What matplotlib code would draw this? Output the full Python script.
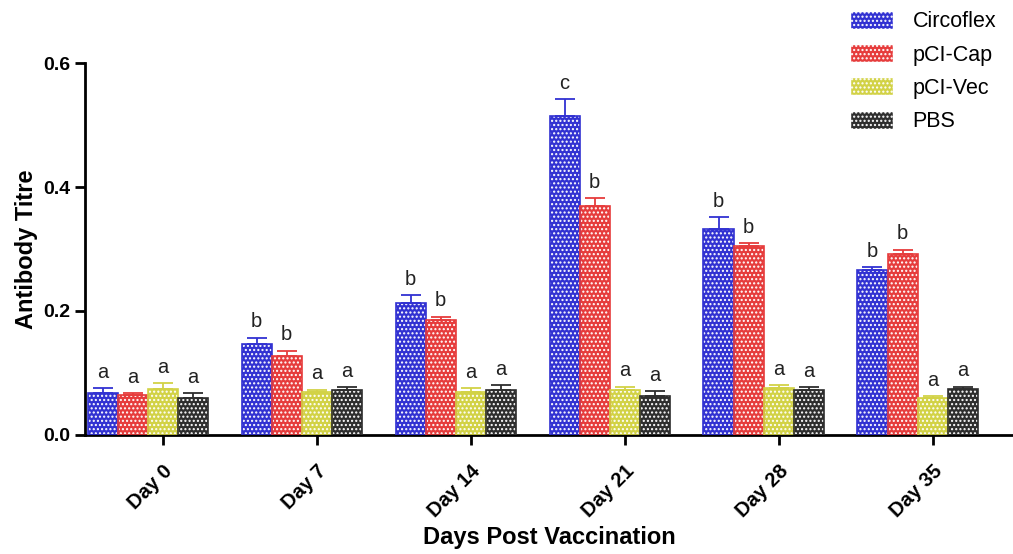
import numpy as np
import matplotlib.pyplot as plt
from matplotlib.patches import Patch

plt.rcParams['font.family'] = ['Liberation Sans', 'DejaVu Sans']

days = ['Day 0', 'Day 7', 'Day 14', 'Day 21', 'Day 28', 'Day 35']
groups = ['Circoflex', 'pCI-Cap', 'pCI-Vec', 'PBS']
colors = ['#3232d2', '#e63c3c', '#d2d246', '#2e2e2e']

circoflex = [0.068, 0.146, 0.213, 0.515, 0.332, 0.266]
circoflex_err = [0.007, 0.011, 0.013, 0.027, 0.019, 0.005]
pci_cap = [0.064, 0.128, 0.185, 0.369, 0.305, 0.292]
pci_cap_err = [0.004, 0.008, 0.006, 0.013, 0.004, 0.007]
pci_vec = [0.074, 0.069, 0.069, 0.073, 0.075, 0.059]
pci_vec_err = [0.009, 0.004, 0.007, 0.005, 0.005, 0.003]
pbs = [0.060, 0.072, 0.072, 0.063, 0.072, 0.074]
pbs_err = [0.008, 0.005, 0.008, 0.008, 0.005, 0.004]

letters = [
    ['a', 'b', 'b', 'c', 'b', 'b'],
    ['a', 'b', 'b', 'b', 'b', 'b'],
    ['a', 'a', 'a', 'a', 'a', 'a'],
    ['a', 'a', 'a', 'a', 'a', 'a'],
]

values = [circoflex, pci_cap, pci_vec, pbs]
errors = [circoflex_err, pci_cap_err, pci_vec_err, pbs_err]

fig = plt.figure(figsize=(10.13, 5.54), dpi=100)
ax = fig.add_axes([0.084, 0.215, 0.916, 0.671])

x = np.arange(len(days))
w = 0.195
shift = -0.1  # groups sit a little left of the tick, as in the original

for i, (vals, errs, col) in enumerate(zip(values, errors, colors)):
    pos = x + shift + (i - 1.5) * w
    ax.bar(pos, vals, w, color=col, edgecolor='white', hatch='....', linewidth=0, zorder=2)
    ax.bar(pos, vals, w, fill=False, edgecolor=col, linewidth=1.2, zorder=3)
    ax.errorbar(pos, vals, yerr=[np.zeros(len(errs)), errs], fmt='none',
                ecolor=col, elinewidth=1.3, capsize=7, capthick=1.3, zorder=3)
    for p, v, e, t in zip(pos, vals, errs, letters[i]):
        ax.text(p, v + e + 0.01, t, ha='center', va='bottom', fontsize=14.5, color='#222222')

ax.set_xlim(-0.506, 5.52)
ax.set_ylim(0, 0.6)
ax.set_yticks([0.0, 0.2, 0.4, 0.6])
ax.set_yticklabels(['0.0', '0.2', '0.4', '0.6'], fontsize=14, fontweight='bold')
ax.set_xticks(x)
ax.set_xticklabels(days, rotation=45, ha='right', rotation_mode='anchor',
                   fontsize=14.5, fontweight='bold')
ax.tick_params(axis='both', width=2, length=7)
ax.tick_params(axis='x', pad=12)
ax.spines['top'].set_visible(False)
ax.spines['right'].set_visible(False)
ax.spines['left'].set_linewidth(2)
ax.spines['bottom'].set_linewidth(2)
ax.set_ylabel('Antibody Titre', fontsize=17, fontweight='bold', labelpad=4)
ax.set_xlabel('Days Post Vaccination', fontsize=17, fontweight='bold', labelpad=4)

handles = [Patch(facecolor=c, edgecolor='white', hatch='....', label=g)
           for c, g in zip(colors, groups)]
fig.legend(handles=handles, loc='upper left', bbox_to_anchor=(0.82, 1.015),
           frameon=False, fontsize=15.5, handlelength=2.0, handleheight=0.9,
           labelspacing=0.55, handletextpad=0.9)

fig.savefig('out.png', dpi=100)
